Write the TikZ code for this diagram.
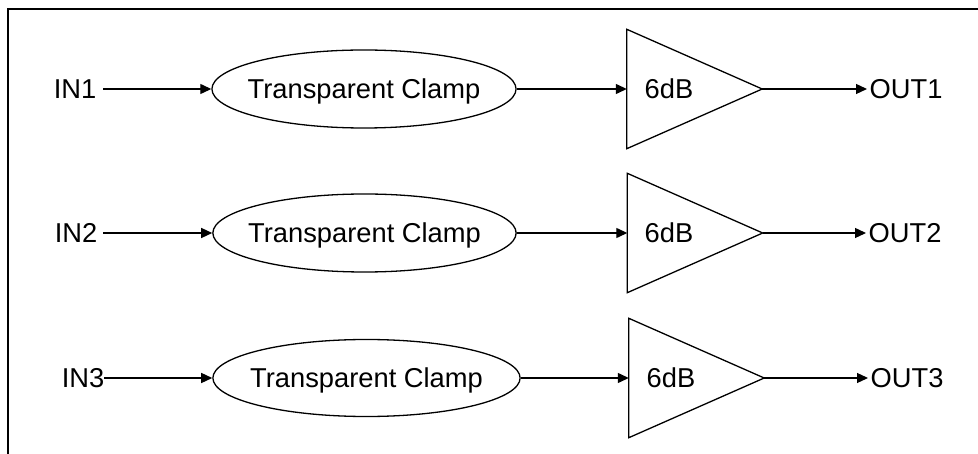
\documentclass[tikz,border=0pt]{standalone}
\usepackage{fontspec}
\setmainfont{Liberation Sans}
\usetikzlibrary{arrows.meta,shapes.geometric}
\begin{document}
\begin{tikzpicture}[x=1pt,y=-1pt,
  every node/.style={font=\fontsize{27.3}{32}\selectfont, text depth=0pt},
  lbl/.style={inner ysep=0pt},
  clamp/.style={draw, ellipse, line width=1.3pt, minimum width=300pt, minimum height=78pt, inner xsep=-8.8pt, inner ysep=0pt},
  ampbox/.style={minimum width=135pt, minimum height=119pt, inner sep=0pt},
  amp/.style={draw, line width=1.3pt, line join=miter},
  arr/.style={-{Triangle[length=11pt,width=10pt]}, line width=1.3pt},
  frameline/.style={line width=1.6pt}]
\useasboundingbox (0,0) rectangle (978,454);
\coordinate (ftop) at (978,9);
\coordinate (fcorner) at (8,9);
\coordinate (fbot) at (8,454);
\draw[frameline] (ftop) -- (fcorner) -- (fbot);

% Row 1
\node[lbl, inner xsep=7pt] (in1) at (75,89) {IN1};
\node[clamp] (e1) at (364,89) {Transparent Clamp};
\node[ampbox] (t1) at (694.5,89) {};
\draw[amp] (t1.north west) -- (t1.east) -- (t1.south west) -- cycle;
\node[inner sep=0pt] (d1) at (669,89) {6dB};
\node[lbl, anchor=west, inner xsep=2.5pt] (out1) at (867,89) {OUT1};
\draw[arr] (in1) -- (e1);
\draw[arr] (e1) -- (t1);
\draw[arr] (t1) -- (out1);

% Row 2
\node[lbl, inner xsep=6pt] (in2) at (76,233) {IN2};
\node[clamp, inner xsep=-9.1pt] (e2) at (364.5,233) {Transparent Clamp};
\node[ampbox] (t2) at (695,233) {};
\draw[amp] (t2.north west) -- (t2.east) -- (t2.south west) -- cycle;
\node[inner sep=0pt] (d2) at (669,233) {6dB};
\node[lbl, anchor=west, inner xsep=2.5pt] (out2) at (866,233) {OUT2};
\draw[arr] (in2) -- (e2);
\draw[arr] (e2) -- (t2);
\draw[arr] (t2) -- (out2);

% Row 3
\node[lbl, inner xsep=0pt] (in3) at (83,378) {IN3};
\node[clamp, inner xsep=-7.7pt, minimum height=77pt] (e3) at (366.5,378) {Transparent Clamp};
\node[ampbox] (t3) at (696.5,378) {};
\draw[amp] (t3.north west) -- (t3.east) -- (t3.south west) -- cycle;
\node[inner sep=0pt] (d3) at (671,378) {6dB};
\node[lbl, anchor=west, inner xsep=2.5pt] (out3) at (868,378) {OUT3};
\draw[arr] (in3) -- (e3);
\draw[arr] (e3) -- (t3);
\draw[arr] (t3) -- (out3);
\end{tikzpicture}
\end{document}
